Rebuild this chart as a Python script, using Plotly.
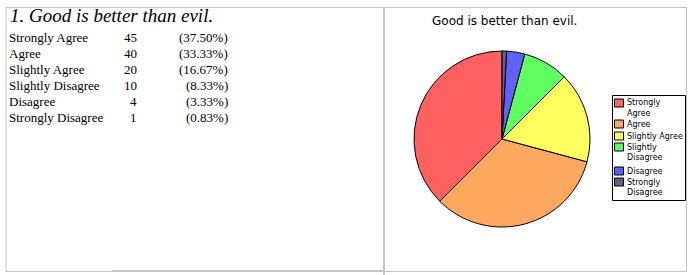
import plotly.graph_objects as go

W, H = 688, 275

title_text = "1. Good is better than evil."
chart_title = "Good is better than evil."
categories = ["Strongly Agree", "Agree", "Slightly Agree", "Slightly Disagree", "Disagree", "Strongly Disagree"]
legend_lines = [["Strongly", "Agree"], ["Agree"], ["Slightly Agree"], ["Slightly", "Disagree"], ["Disagree"], ["Strongly", "Disagree"]]
counts = [45, 40, 20, 10, 4, 1]
percents = ["(37.50%)", "(33.33%)", "(16.67%)", "(8.33%)", "(3.33%)", "(0.83%)"]
colors = ["#ff6060", "#ffa860", "#ffff60", "#60ff60", "#6060ff", "#606080"]

def px(x):
    return x / W

def py(y):
    return 1 - y / H

fig = go.Figure()
fig.add_trace(go.Pie(
    labels=categories,
    values=counts,
    sort=False,
    direction="counterclockwise",
    rotation=-135,
    marker=dict(colors=colors, line=dict(color="black", width=1)),
    textinfo="none",
    hoverinfo="label+value+percent",
    domain=dict(x=[px(414), px(590)], y=[py(227), py(51)]),
    showlegend=False,
))

annotations = []
shapes = []
serif = "Liberation Serif"
annotations.append(dict(x=px(8), y=py(28), xref="paper", yref="paper", xanchor="left", yanchor="bottom",
                        text="<i>" + title_text + "</i>", showarrow=False,
                        font=dict(family=serif, size=19, color="black")))
row_y0 = 37.5
for i, (c, n, p) in enumerate(zip(categories, counts, percents)):
    yy = py(row_y0 + 16 * i)
    annotations.append(dict(x=px(7), y=yy, xref="paper", yref="paper", xanchor="left", yanchor="middle",
                            text=c, showarrow=False, font=dict(family=serif, size=13, color="black")))
    annotations.append(dict(x=px(139), y=yy, xref="paper", yref="paper", xanchor="right", yanchor="middle",
                            text=str(n), showarrow=False, font=dict(family=serif, size=13, color="black")))
    annotations.append(dict(x=px(230), y=yy, xref="paper", yref="paper", xanchor="right", yanchor="middle",
                            text=p, showarrow=False, font=dict(family=serif, size=13, color="black")))
annotations.append(dict(x=px(504), y=py(21), xref="paper", yref="paper", xanchor="center", yanchor="middle",
                        text=chart_title, showarrow=False, font=dict(family="DejaVu Sans", size=12, color="black")))

# custom legend built from the category / colour lists
shapes.append(dict(type="rect", xref="paper", yref="paper", x0=px(612.5), x1=px(685.5), y0=py(95.5), y1=py(200.5),
                   line=dict(color="black", width=1), fillcolor="white", layer="above"))
item_top = [103, 124, 136, 147, 171, 182]
for lines, col, yc in zip(legend_lines, colors, item_top):
    shapes.append(dict(type="rect", xref="paper", yref="paper", x0=px(614.5), x1=px(623.5),
                       y0=py(yc + 4), y1=py(yc - 4), line=dict(color="black", width=1), fillcolor=col, layer="above"))
    for k, ln in enumerate(lines):
        annotations.append(dict(x=px(625), y=py(yc + 10 * k), xref="paper", yref="paper", xanchor="left",
                                yanchor="middle", text=ln, showarrow=False,
                                font=dict(family="DejaVu Sans", size=8, color="black")))

gray = "#c4c4c4"
shapes += [
    dict(type="line", xref="paper", yref="paper", x0=px(6), x1=px(6), y0=py(7), y1=py(272), line=dict(color=gray, width=1)),
    dict(type="line", xref="paper", yref="paper", x0=px(6), x1=px(686), y0=py(7.5), y1=py(7.5), line=dict(color=gray, width=1)),
    dict(type="line", xref="paper", yref="paper", x0=px(384), x1=px(384), y0=py(7), y1=py(275), line=dict(color=gray, width=2)),
    dict(type="line", xref="paper", yref="paper", x0=px(686.5), x1=px(686.5), y0=py(7), y1=py(272), line=dict(color=gray, width=1)),
    dict(type="line", xref="paper", yref="paper", x0=px(6), x1=px(686), y0=py(271.5), y1=py(271.5), line=dict(color=gray, width=1)),
    dict(type="line", xref="paper", yref="paper", x0=px(112), x1=px(384), y0=py(271), y1=py(271), line=dict(color=gray, width=2)),
]

fig.update_layout(
    width=W, height=H,
    margin=dict(l=0, r=0, t=0, b=0),
    paper_bgcolor="white",
    plot_bgcolor="white",
    annotations=annotations,
    shapes=shapes,
    showlegend=False,
)

fig.write_html("out.html")
